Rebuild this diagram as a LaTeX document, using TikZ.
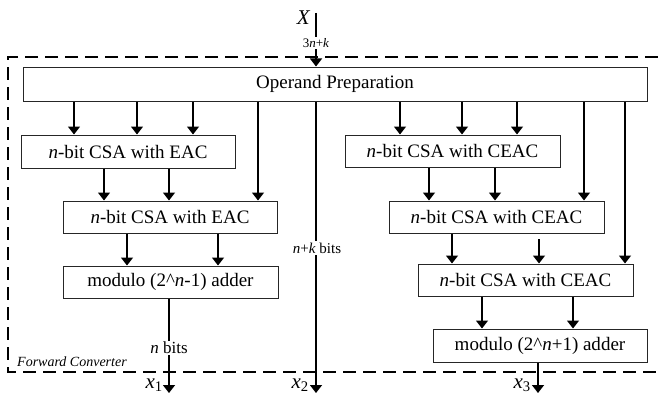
\documentclass[tikz,border=0pt]{standalone}
\usepackage{fontspec}
\setmainfont{Liberation Serif}
\usetikzlibrary{arrows.meta}

\begin{document}
\begin{tikzpicture}[x=1pt,y=-1pt,
  blk/.style={draw=black!85,line width=1pt,minimum height=32pt,inner sep=0pt,
              font=\rmfamily\fontsize{19}{22}\selectfont},
  arr/.style={line width=1.5pt,-{Triangle[width=12pt,length=8pt]}},
  frame/.style={line width=1.5pt,dash pattern=on 13pt off 7pt},
  tag/.style={fill=white,inner sep=1.5pt,font=\rmfamily\fontsize{15}{17}\selectfont},
  outlbl/.style={inner sep=0pt,font=\rmfamily\itshape\fontsize{21}{23}\selectfont}]
\useasboundingbox (0,0) rectangle (658,396);

% enclosing converter frame
\draw[frame] (658,57) -- (8,57) -- (8,372) -- (658,372);
\node[anchor=west,inner sep=0pt,font=\rmfamily\itshape\fontsize{14}{16}\selectfont]
  (fc) at (17,362) {Forward Converter};

% blocks
\node[blk,minimum width=624pt,minimum height=34pt] (prep) at (335,84) {Operand Preparation};
\node[blk,minimum width=214pt,minimum height=33pt] (eac1) at (128,151.5) {\textit{n}-bit CSA with EAC};
\node[blk,minimum width=214pt] (eac2) at (170,217) {\textit{n}-bit CSA with EAC};
\node[blk,minimum width=215pt] (modm) at (170.5,282) {modulo (2\^{}\textit{n}-1) adder};
\node[blk,minimum width=215pt] (ceac1) at (452.5,151) {\textit{n}-bit CSA with CEAC};
\node[blk,minimum width=215pt] (ceac2) at (496.5,217) {\textit{n}-bit CSA with CEAC};
\node[blk,minimum width=215pt] (ceac3) at (525.5,280) {\textit{n}-bit CSA with CEAC};
\node[blk,minimum width=214pt,minimum height=33pt] (modp) at (540,345.5) {modulo (2\^{}\textit{n}+1) adder};

% input
\coordinate (xin) at (316,13);
\node[outlbl,anchor=east] (X) at (310,18) {X};
\draw[arr] (xin) -- (prep.north -| xin);
\node[tag,font=\rmfamily\fontsize{13}{15}\selectfont] (w3) at (316,43) {3\textit{n}+\textit{k}};

% left branch
\foreach \x in {74,137,193} \draw[arr] (prep.south -| \x,0) -- (eac1.north -| \x,0);
\draw[arr] (prep.south -| 258,0) -- (eac2.north -| 258,0);
\foreach \x in {104,169} \draw[arr] (eac1.south -| \x,0) -- (eac2.north -| \x,0);
\foreach \x in {127,218} \draw[arr] (eac2.south -| \x,0) -- (modm.north -| \x,0);
\coordinate (o1) at (169,393);
\draw[arr] (modm.south -| o1) -- (o1);
\node[tag,font=\rmfamily\fontsize{17}{19}\selectfont] (nb) at (169,348) {\textit{n} bits};
\node[outlbl,anchor=east] (x1) at (163,385) {x\textsubscript{\upshape 1}};

% middle path
\coordinate (o2) at (316,393);
\draw[arr] (prep.south -| o2) -- (o2);
\node[tag] (nkb) at (317,248) {\textit{n}+\textit{k} bits};
\node[outlbl,anchor=east] (x2) at (309,385) {x\textsubscript{\upshape 2}};

% right branch
\foreach \x in {400,462,517} \draw[arr] (prep.south -| \x,0) -- (ceac1.north -| \x,0);
\draw[arr] (prep.south -| 584,0) -- (ceac2.north -| 584,0);
\draw[arr] (prep.south -| 625,0) -- (ceac3.north -| 625,0);
\foreach \x in {429,495} \draw[arr] (ceac1.south -| \x,0) -- (ceac2.north -| \x,0);
\draw[arr] (ceac2.south -| 452,0) -- (ceac3.north -| 452,0);
\coordinate (cin) at (539,239);
\draw[arr] (cin) -- (ceac3.north -| cin);
\foreach \x in {482,573} \draw[arr] (ceac3.south -| \x,0) -- (modp.north -| \x,0);
\coordinate (o3) at (538,393);
\draw[arr] (modp.south -| o3) -- (o3);
\node[outlbl,anchor=east] (x3) at (531,385) {x\textsubscript{\upshape 3}};
\end{tikzpicture}
\end{document}
